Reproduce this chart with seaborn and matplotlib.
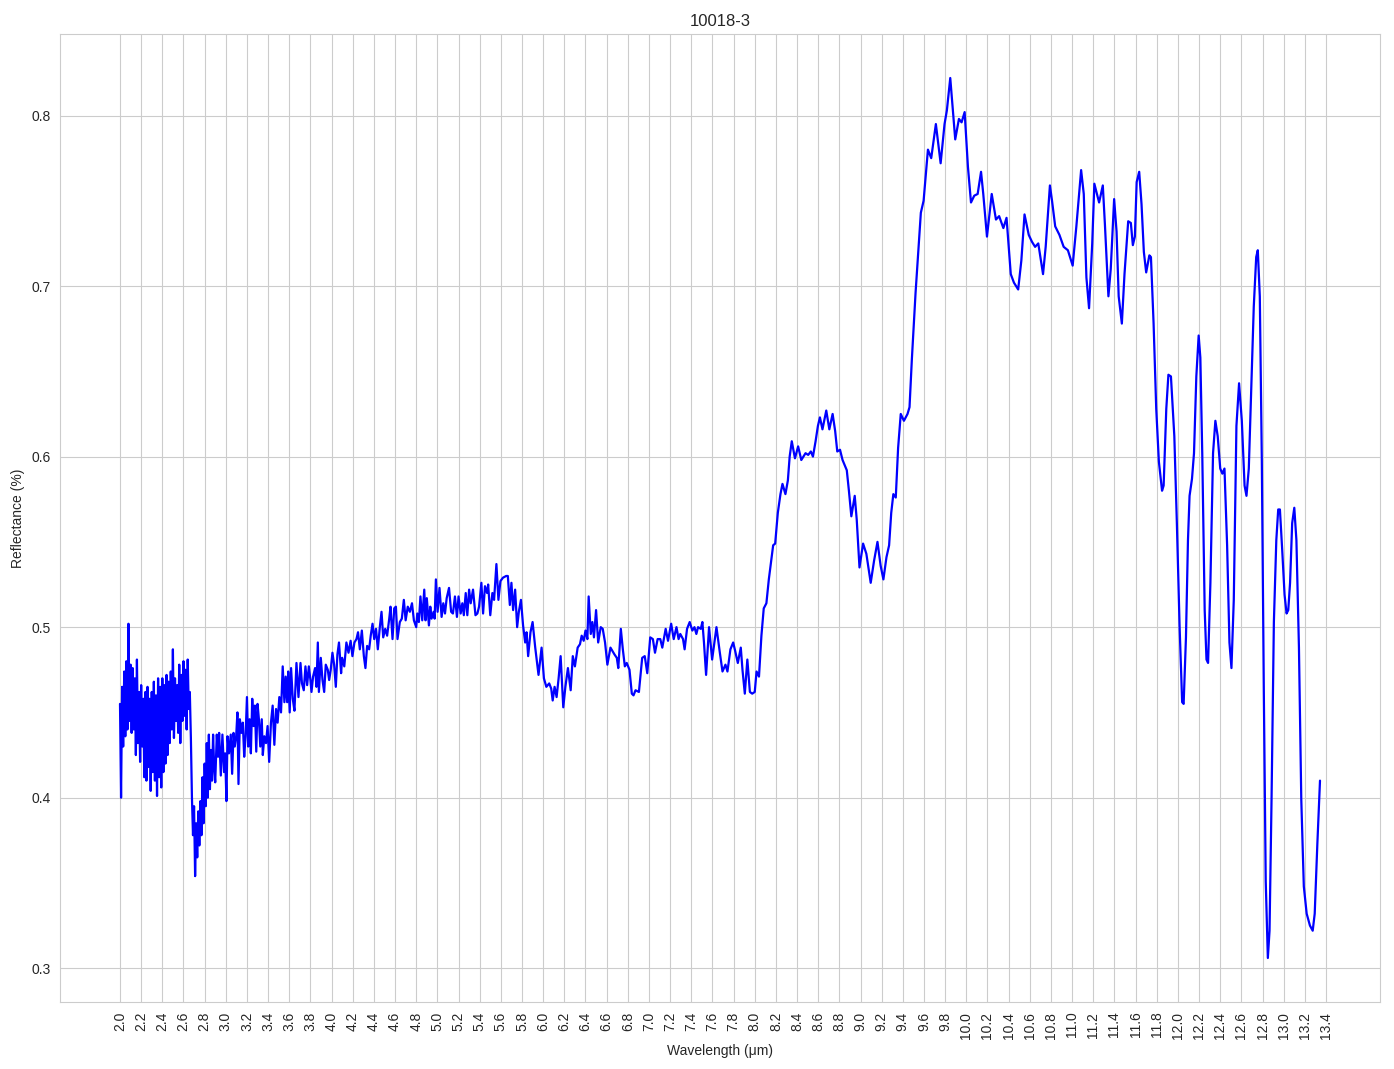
import numpy as np
import pandas as pd
import matplotlib
matplotlib.use("Agg")
import matplotlib.pyplot as plt
import seaborn as sns

# --- spektrum 10018-3 ---
# bagian paling berisik 2.00-2.89 um, langkah 0.01 um
noisy_start, noisy_step = 2.00, 0.01
noisy_refl = [
    0.455, 0.400, 0.465, 0.430, 0.474, 0.436, 0.480, 0.440, 0.502, 0.445,
    0.478, 0.438, 0.476, 0.440, 0.470, 0.425, 0.481, 0.432, 0.462, 0.421,
    0.466, 0.430, 0.458, 0.412, 0.462, 0.410, 0.465, 0.418, 0.458, 0.404,
    0.462, 0.415, 0.468, 0.410, 0.460, 0.401, 0.470, 0.412, 0.465, 0.406,
    0.470, 0.415, 0.466, 0.420, 0.472, 0.425, 0.468, 0.432, 0.474, 0.440,
    0.487, 0.435, 0.470, 0.445, 0.466, 0.438, 0.478, 0.432, 0.472, 0.445,
    0.480, 0.448, 0.475, 0.440, 0.481, 0.452, 0.462, 0.435, 0.400, 0.378,
    0.395, 0.354, 0.385, 0.365, 0.392, 0.372, 0.398, 0.378, 0.412, 0.385,
    0.420, 0.395, 0.432, 0.400, 0.437, 0.405, 0.428, 0.410, 0.437, 0.418,
]

seg_2_9 = [
    (2.900, 0.409), (2.915, 0.437), (2.927, 0.424), (2.937, 0.438), (2.953, 0.413),
    (2.968, 0.437), (2.984, 0.415), (2.994, 0.426), (3.006, 0.398), (3.016, 0.436),
    (3.030, 0.426), (3.047, 0.437), (3.060, 0.414), (3.073, 0.438), (3.085, 0.430),
    (3.098, 0.436), (3.110, 0.450), (3.120, 0.408), (3.133, 0.446), (3.149, 0.438),
    (3.161, 0.444), (3.174, 0.424), (3.187, 0.436), (3.200, 0.459), (3.212, 0.430),
    (3.225, 0.446), (3.237, 0.426), (3.250, 0.458), (3.263, 0.442), (3.275, 0.454),
    (3.288, 0.427), (3.300, 0.455), (3.313, 0.446), (3.326, 0.430), (3.340, 0.446),
    (3.350, 0.425), (3.364, 0.436), (3.380, 0.432), (3.395, 0.442), (3.410, 0.421),
    (3.427, 0.444), (3.443, 0.454), (3.459, 0.431), (3.475, 0.452), (3.490, 0.444),
    (3.506, 0.459), (3.522, 0.450), (3.538, 0.477), (3.554, 0.456), (3.566, 0.471),
    (3.580, 0.456), (3.590, 0.474), (3.604, 0.450), (3.617, 0.476), (3.633, 0.458),
    (3.649, 0.451), (3.668, 0.479), (3.687, 0.459), (3.706, 0.479), (3.720, 0.467),
    (3.737, 0.463), (3.753, 0.477), (3.769, 0.466), (3.785, 0.477), (3.800, 0.469),
]

seg_3_8 = [
    (3.810, 0.462), (3.825, 0.471), (3.844, 0.476), (3.857, 0.465), (3.870, 0.491),
    (3.880, 0.462), (3.898, 0.482), (3.914, 0.469), (3.930, 0.462), (3.945, 0.478),
    (3.964, 0.475), (3.977, 0.469), (3.992, 0.475), (4.008, 0.485), (4.024, 0.478),
    (4.040, 0.465), (4.055, 0.484), (4.070, 0.491), (4.090, 0.473), (4.100, 0.482),
    (4.120, 0.477), (4.140, 0.491), (4.160, 0.485), (4.180, 0.492), (4.197, 0.483),
    (4.216, 0.491), (4.235, 0.493), (4.250, 0.497), (4.267, 0.487), (4.286, 0.498),
    (4.305, 0.483), (4.320, 0.476), (4.336, 0.489), (4.355, 0.487), (4.370, 0.495),
    (4.387, 0.502), (4.403, 0.493), (4.420, 0.499), (4.437, 0.487), (4.456, 0.500),
    (4.472, 0.509), (4.488, 0.494), (4.507, 0.499), (4.525, 0.495), (4.545, 0.505),
    (4.557, 0.512), (4.576, 0.493), (4.592, 0.511), (4.608, 0.512), (4.623, 0.493),
    (4.645, 0.503), (4.664, 0.505), (4.683, 0.516), (4.700, 0.504), (4.720, 0.512),
    (4.740, 0.509), (4.760, 0.514), (4.778, 0.504), (4.800, 0.500),
]

seg_4_8 = [
    (4.810, 0.508), (4.825, 0.503), (4.840, 0.518), (4.857, 0.504), (4.876, 0.522),
    (4.888, 0.504), (4.900, 0.517), (4.920, 0.501), (4.933, 0.512), (4.945, 0.505),
    (4.964, 0.509), (4.974, 0.505), (4.986, 0.528), (5.002, 0.509), (5.020, 0.523),
    (5.040, 0.506), (5.056, 0.514), (5.072, 0.508), (5.088, 0.517), (5.110, 0.523),
    (5.130, 0.509), (5.147, 0.508), (5.166, 0.518), (5.185, 0.506), (5.200, 0.518),
    (5.220, 0.508), (5.236, 0.514), (5.250, 0.507), (5.268, 0.520), (5.283, 0.507),
    (5.300, 0.522), (5.315, 0.514), (5.337, 0.522), (5.360, 0.507), (5.378, 0.508),
    (5.394, 0.512), (5.416, 0.526), (5.432, 0.508), (5.450, 0.524), (5.470, 0.520),
    (5.480, 0.525), (5.500, 0.507), (5.520, 0.520), (5.536, 0.516), (5.558, 0.537),
    (5.577, 0.516), (5.596, 0.527), (5.620, 0.529), (5.650, 0.530), (5.666, 0.530),
    (5.685, 0.513), (5.700, 0.526), (5.716, 0.510), (5.735, 0.522), (5.754, 0.500),
    (5.770, 0.509), (5.790, 0.516), (5.810, 0.501), (5.830, 0.491), (5.843, 0.497),
    (5.858, 0.483), (5.880, 0.497), (5.900, 0.503), (5.925, 0.488), (5.956, 0.472),
    (5.985, 0.488), (6.007, 0.470), (6.030, 0.465), (6.057, 0.467), (6.076, 0.464),
    (6.090, 0.457), (6.108, 0.465), (6.127, 0.459), (6.146, 0.470), (6.165, 0.483),
    (6.190, 0.453), (6.210, 0.465), (6.234, 0.476), (6.260, 0.463), (6.280, 0.483),
    (6.300, 0.477), (6.326, 0.488), (6.348, 0.490), (6.364, 0.495), (6.383, 0.492),
    (6.400, 0.498), (6.418, 0.493), (6.430, 0.518), (6.450, 0.496), (6.465, 0.503),
    (6.480, 0.494), (6.500, 0.510), (6.520, 0.491), (6.544, 0.500), (6.563, 0.499),
    (6.585, 0.491), (6.607, 0.478),
]

seg_6_6 = [
    (6.636, 0.488), (6.674, 0.484), (6.696, 0.482), (6.710, 0.476), (6.734, 0.499),
    (6.753, 0.487), (6.772, 0.477), (6.790, 0.479), (6.816, 0.475), (6.838, 0.461),
    (6.854, 0.460), (6.873, 0.463), (6.905, 0.462), (6.936, 0.482), (6.960, 0.483),
    (6.984, 0.473), (7.012, 0.494), (7.037, 0.493), (7.057, 0.485), (7.082, 0.493),
    (7.107, 0.493), (7.126, 0.488), (7.158, 0.499), (7.180, 0.492), (7.210, 0.502),
    (7.234, 0.493), (7.260, 0.500), (7.280, 0.493), (7.296, 0.496), (7.322, 0.493),
    (7.337, 0.487), (7.360, 0.499), (7.385, 0.503), (7.410, 0.498), (7.430, 0.500),
    (7.448, 0.496), (7.464, 0.500), (7.490, 0.499), (7.505, 0.503), (7.520, 0.491),
    (7.540, 0.472), (7.568, 0.500), (7.597, 0.481), (7.638, 0.500), (7.670, 0.485),
    (7.695, 0.474), (7.723, 0.478), (7.742, 0.474), (7.770, 0.487), (7.796, 0.491),
    (7.815, 0.486), (7.840, 0.479), (7.868, 0.488), (7.884, 0.475), (7.906, 0.461),
    (7.930, 0.481), (7.954, 0.462), (7.976, 0.461), (8.000, 0.462), (8.017, 0.474),
    (8.040, 0.471),
]

seg_8_0 = [
    (8.063, 0.495), (8.085, 0.511), (8.110, 0.514), (8.133, 0.528), (8.155, 0.539),
    (8.174, 0.548), (8.193, 0.549), (8.218, 0.567), (8.243, 0.578), (8.262, 0.584),
    (8.290, 0.578), (8.313, 0.586), (8.330, 0.600), (8.350, 0.609), (8.380, 0.599),
    (8.410, 0.606), (8.440, 0.598), (8.480, 0.602), (8.505, 0.601), (8.530, 0.603),
    (8.550, 0.600), (8.575, 0.609), (8.597, 0.618), (8.616, 0.623), (8.640, 0.616),
    (8.676, 0.627), (8.705, 0.616), (8.736, 0.625), (8.760, 0.615), (8.780, 0.603),
    (8.806, 0.604), (8.830, 0.598), (8.870, 0.592), (8.890, 0.580), (8.913, 0.565),
    (8.945, 0.577), (8.964, 0.563), (8.990, 0.535), (9.024, 0.549), (9.055, 0.543),
    (9.096, 0.526), (9.128, 0.539), (9.160, 0.550), (9.190, 0.536), (9.216, 0.528),
    (9.245, 0.541), (9.270, 0.548), (9.290, 0.567), (9.310, 0.578), (9.333, 0.576),
    (9.355, 0.605), (9.380, 0.625), (9.410, 0.621), (9.444, 0.625), (9.463, 0.629),
]

seg_9_5 = [
    (9.485, 0.657), (9.520, 0.696), (9.570, 0.743), (9.596, 0.750), (9.637, 0.780),
    (9.668, 0.775), (9.712, 0.795), (9.757, 0.772), (9.794, 0.795), (9.816, 0.803),
    (9.848, 0.822), (9.895, 0.786), (9.930, 0.798), (9.955, 0.796), (9.984, 0.802),
    (10.015, 0.770), (10.044, 0.749), (10.075, 0.753), (10.107, 0.754), (10.139, 0.767),
    (10.160, 0.754), (10.195, 0.729), (10.240, 0.754), (10.280, 0.739), (10.310, 0.741),
    (10.350, 0.734), (10.380, 0.740), (10.420, 0.707), (10.450, 0.702), (10.490, 0.698),
    (10.520, 0.715), (10.550, 0.742), (10.590, 0.730), (10.620, 0.726), (10.650, 0.723),
    (10.680, 0.725), (10.725, 0.707), (10.750, 0.723), (10.790, 0.759), (10.810, 0.750),
    (10.840, 0.735), (10.880, 0.730), (10.920, 0.723), (10.960, 0.721), (11.005, 0.712),
    (11.040, 0.735), (11.085, 0.768), (11.110, 0.754), (11.135, 0.705), (11.160, 0.687),
    (11.190, 0.725), (11.210, 0.760), (11.255, 0.749),
]

seg_11_3 = [
    (11.290, 0.759), (11.310, 0.736), (11.343, 0.694), (11.365, 0.710), (11.397, 0.751),
    (11.420, 0.732), (11.440, 0.694), (11.470, 0.678), (11.495, 0.707), (11.530, 0.738),
    (11.555, 0.737), (11.574, 0.724), (11.593, 0.729), (11.610, 0.761), (11.634, 0.767),
    (11.656, 0.748), (11.678, 0.720), (11.700, 0.708), (11.730, 0.718), (11.745, 0.717),
    (11.770, 0.678), (11.795, 0.628), (11.820, 0.597), (11.850, 0.580), (11.865, 0.583),
    (11.890, 0.628), (11.910, 0.648), (11.934, 0.647), (11.966, 0.612), (11.990, 0.561),
    (12.016, 0.500), (12.040, 0.456), (12.054, 0.455), (12.076, 0.494), (12.095, 0.551),
    (12.110, 0.577), (12.133, 0.587), (12.152, 0.602), (12.174, 0.647), (12.196, 0.671),
    (12.212, 0.658), (12.230, 0.602), (12.253, 0.510), (12.270, 0.481), (12.285, 0.479),
    (12.307, 0.526), (12.332, 0.602), (12.354, 0.621), (12.376, 0.612), (12.400, 0.593),
    (12.420, 0.590), (12.440, 0.593), (12.465, 0.548), (12.487, 0.491), (12.506, 0.476),
    (12.528, 0.516), (12.553, 0.618), (12.578, 0.643), (12.604, 0.621), (12.630, 0.583),
    (12.648, 0.577), (12.670, 0.593), (12.695, 0.643), (12.717, 0.688), (12.740, 0.717),
    (12.755, 0.721), (12.774, 0.694), (12.793, 0.598), (12.812, 0.462), (12.830, 0.351),
    (12.850, 0.306), (12.866, 0.322), (12.885, 0.399), (12.907, 0.503), (12.930, 0.551),
    (12.948, 0.569), (12.964, 0.569), (12.986, 0.545), (13.008, 0.519), (13.027, 0.508),
    (13.043, 0.510), (13.060, 0.526), (13.080, 0.561), (13.100, 0.570), (13.120, 0.551),
    (13.144, 0.488), (13.166, 0.399), (13.190, 0.348), (13.217, 0.332), (13.248, 0.325),
    (13.274, 0.322), (13.293, 0.332), (13.318, 0.373), (13.343, 0.410),
]

# gabungkan jadi satu DataFrame
wl_noisy = noisy_start + noisy_step * np.arange(len(noisy_refl))
pairs = seg_2_9 + seg_3_8 + seg_4_8 + seg_6_6 + seg_8_0 + seg_9_5 + seg_11_3
df = pd.DataFrame({
    "wavelength": np.concatenate([wl_noisy, [p[0] for p in pairs]]),
    "reflectance": np.concatenate([noisy_refl, [p[1] for p in pairs]]),
})

sns.set_style("whitegrid")
plt.rcParams["font.family"] = ["Liberation Sans", "DejaVu Sans"]

fig = plt.figure(figsize=(13.94, 10.69), dpi=100)
ax = fig.add_axes([60 / 1394, 1 - 1002 / 1069, 1320 / 1394, 968 / 1069])

sns.lineplot(data=df, x="wavelength", y="reflectance", color="blue",
             linewidth=1.6, estimator=None, sort=False, ax=ax)

ticks = np.round(np.arange(2.0, 13.41, 0.2), 1)
ax.set_xticks(ticks)
ax.set_xticklabels([f"{t:.1f}" for t in ticks], rotation=90)
ax.set_title("10018-3")
ax.set_xlabel("Wavelength (μm)")
ax.set_ylabel("Reflectance (%)")

fig.savefig("out.png", dpi=100)
